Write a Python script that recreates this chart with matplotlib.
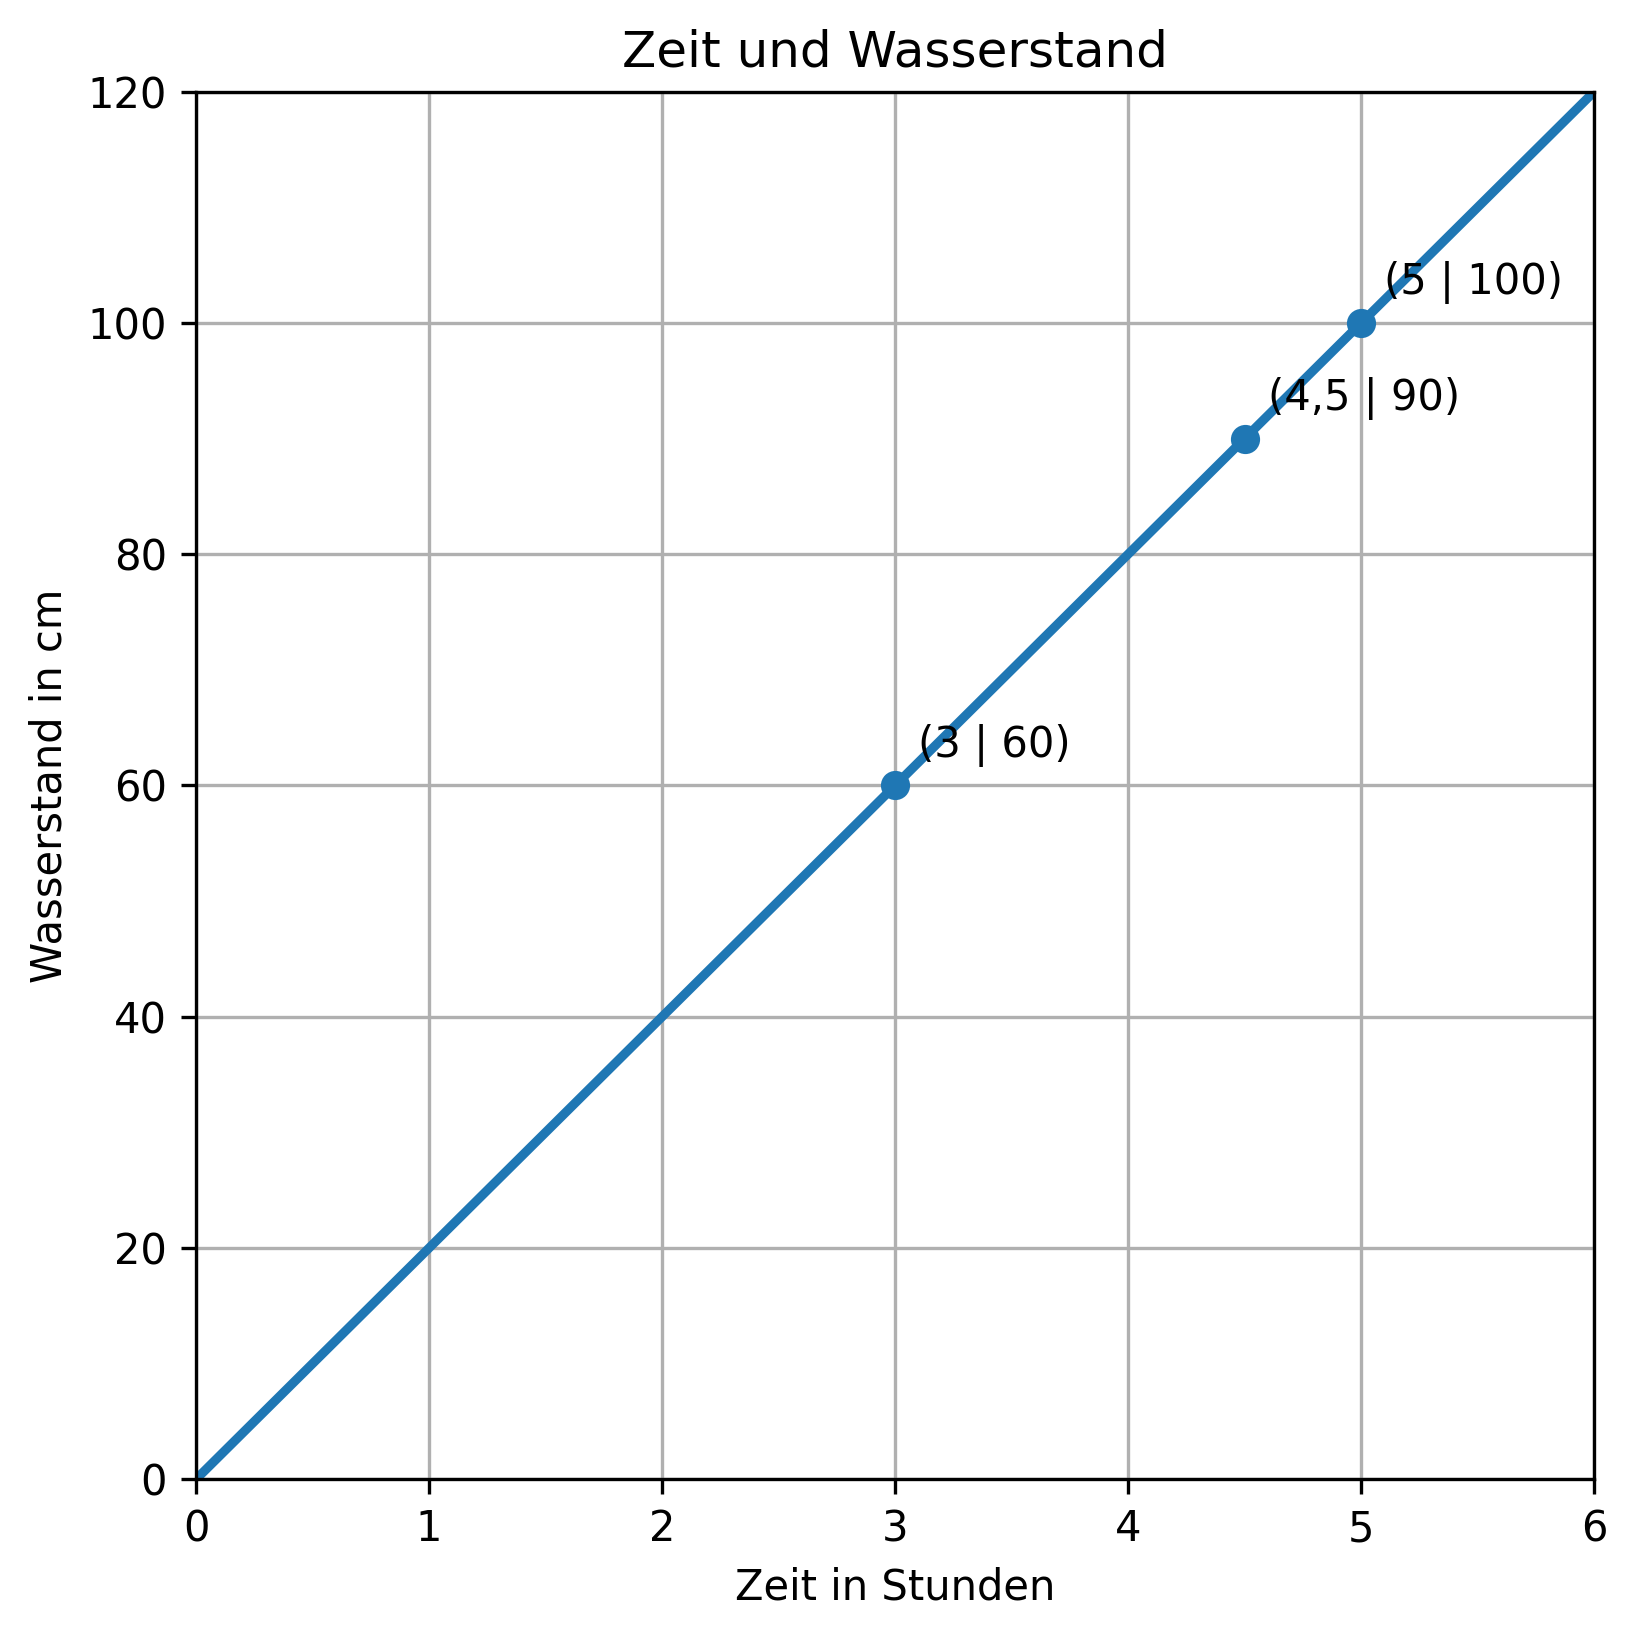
import matplotlib.pyplot as plt

zeit = [0, 6]
wasser = [0, 120]
punkte_x = [3, 4.5, 5]
punkte_y = [60, 90, 100]
labels = ['(3 | 60)', '(4,5 | 90)', '(5 | 100)']

fig = plt.figure(figsize=(5.45, 5.46), dpi=300)
ax = fig.add_axes([0.12, 0.097, 0.855, 0.847])
ax.plot(zeit, wasser, color='#1f77b4', linewidth=2.2)
ax.plot(punkte_x, punkte_y, 'o', color='#1f77b4', markersize=6)
for i in range(len(labels)):
    ax.text(punkte_x[i] + 0.1, punkte_y[i] + 2.5, labels[i], fontsize=10)

ax.set_xlim(0, 6)
ax.set_ylim(0, 120)
ax.set_xlabel('Zeit in Stunden')
ax.set_ylabel('Wasserstand in cm')
ax.set_title('Zeit und Wasserstand')
ax.grid(True)
fig.savefig('out.png', dpi=300)
